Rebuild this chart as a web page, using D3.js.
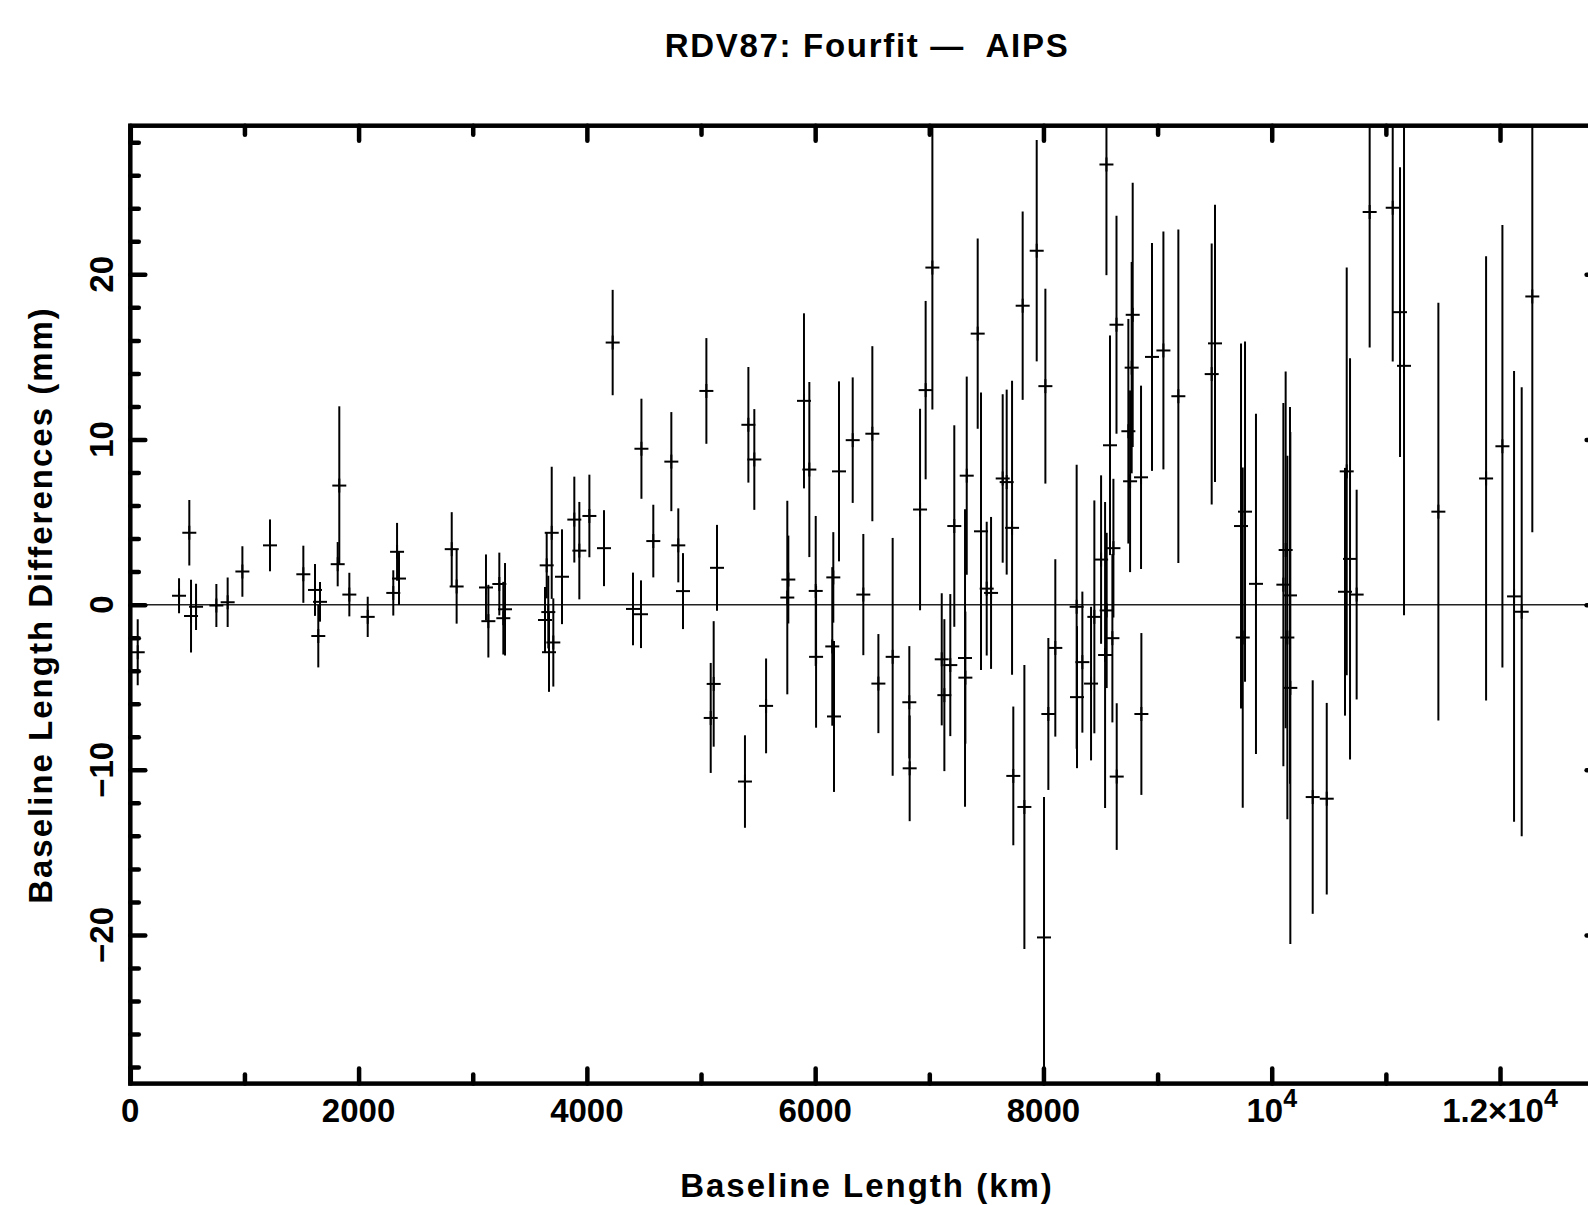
<!DOCTYPE html>
<html>
<head>
<meta charset="utf-8">
<script src="https://cdn.jsdelivr.net/npm/d3@7"></script>
<style>
  body { margin: 0; background: #fff; }
  svg { display: block; }
  text { font-family: 'Liberation Sans', Arial, sans-serif; font-weight: bold; fill: #000; }
</style>
</head>
<body>
<div id="vis"></div>
<script>
/*
 * data: baseline length (km), difference (mm), 1-sigma error (mm)
 */
var baselineKm = [
  65, 427, 517, 532, 576, 754, 853, 982, 1224, 1516,
  1618, 1647, 1662, 1817, 1831, 1919, 2080, 2304, 2337, 2354,
  2816, 2859, 3116, 3137, 3233, 3268, 3283, 3633, 3648, 3662,
  3668, 3692, 3706, 3782, 3890, 3934, 4022, 4150, 4226, 4404,
  4474, 4478, 4582, 4740, 4801, 4842, 5047, 5085, 5111, 5140,
  5385, 5415, 5467, 5570, 5756, 5765, 5902, 5949, 6005, 6008,
  6150, 6159, 6165, 6209, 6329, 6422, 6501, 6554, 6679, 6825,
  6828, 6919, 6968, 7027, 7109, 7132, 7184, 7219, 7313, 7316,
  7328, 7424, 7453, 7503, 7541, 7643, 7678, 7725, 7736, 7818,
  7833, 7941, 8005, 8017, 8043, 8104, 8291, 8294, 8341, 8417,
  8446, 8505, 8540, 8554, 8552, 8583, 8604, 8613, 8642, 8640,
  8744, 8759, 8773, 8782, 8855, 8858, 8951, 9051, 9182, 9474,
  9503, 9731, 9746, 9766, 9862, 10102, 10122, 10137, 10160, 10163,
  10359, 10482, 10642, 10657, 10686, 10744, 10858, 11060, 11124, 11159,
  11460, 11878, 12021, 12123, 12190, 12283
];

var diffMm = [
  -2.88, 0.54, 4.35, -0.69, -0.13, -0.05, 0.15, 2.01, 3.59, 1.84,
  0.89, -1.9, 0.17, 2.45, 7.21, 0.61, -0.74, 0.71, 3.2, 1.58,
  3.36, 1.1, 1.04, -1.0, 1.25, -0.82, -0.28, -0.93, 2.38, -0.45,
  -2.88, 4.35, -2.29, 1.69, 5.15, 3.27, 5.37, 3.42, 15.87, -0.26,
  -0.58, 9.44, 3.85, 8.66, 3.59, 0.82, 12.94, -6.86, -4.8, 2.23,
  -10.71, 10.89, 8.79, -6.13, 0.43, 1.52, 12.34, 8.18, 0.83, -3.16,
  -2.53, 1.65, -6.77, 8.07, 9.96, 0.61, 10.35, -4.78, -3.16, -5.91,
  -9.91, 5.76, 12.99, 20.41, -3.31, -5.48, -3.66, 4.76, -3.23, -4.42,
  7.81, 16.41, 4.44, 0.97, 0.71, 7.64, 7.42, 4.65, -10.37, 18.1,
  -12.25, 21.43, -20.15, 13.23, -6.62, -2.62, -0.13, -5.6, -3.48, -4.78,
  -0.74, 2.73, -3.05, -0.35, 26.65, 9.65, -2.03, 3.42, -10.41, 16.95,
  10.5, 7.47, 14.35, 17.55, 7.71, -6.62, 15.0, 15.39, 12.62, 13.96,
  15.82, 4.76, -1.99, 5.63, 1.26, 1.21, 3.31, -1.99, 0.56, -5.04,
  -11.65, -11.75, 0.78, 8.07, 2.77, 0.61, 23.77, 24.03, 17.71, 14.46,
  5.63, 7.64, 9.59, 0.5, -0.43, 18.66
];

var errMm = [
  2.0, 1.06, 1.98, 2.2, 1.4, 1.3, 1.5, 1.53, 1.57, 1.73,
  1.57, 1.9, 1.2, 1.34, 4.8, 1.32, 1.22, 1.37, 1.75, 1.6,
  2.24, 2.25, 2.0, 2.2, 1.9, 2.2, 2.8, 2.0, 2.0, 2.2,
  2.4, 4.0, 2.67, 2.87, 2.6, 2.95, 2.5, 2.3, 3.19, 2.2,
  2.05, 3.03, 2.2, 3.0, 2.24, 2.3, 3.2, 3.33, 3.8, 2.6,
  2.8, 3.5, 3.05, 2.87, 5.86, 2.66, 5.3, 5.3, 4.54, 4.29,
  4.8, 2.74, 4.57, 5.45, 3.8, 3.67, 5.3, 3.0, 7.2, 3.4,
  3.2, 6.1, 5.4, 8.6, 4.0, 4.6, 4.3, 6.1, 9.0, 4.0,
  6.0, 5.76, 8.4, 4.05, 4.6, 5.1, 5.6, 8.9, 4.2, 5.7,
  8.6, 6.7, 8.5, 5.9, 4.6, 5.37, 8.6, 4.3, 4.27, 4.65,
  7.05, 5.1, 9.27, 4.7, 6.7, 6.65, 5.1, 4.2, 4.44, 6.6,
  6.8, 5.5, 6.4, 8.0, 5.55, 4.9, 6.9, 7.2, 10.1, 7.9,
  8.4, 11.05, 10.3, 10.3, 10.3, 11.0, 10.8, 11.0, 11.4, 15.5,
  7.07, 5.8, 7.5, 12.35, 12.15, 6.35, 8.2, 9.3, 8.77, 15.1,
  12.65, 13.45, 13.4, 13.65, 13.6, 14.27
];

// axis ticks and labels ('^' marks a superscript)
var xMajorTicks = [0, 2000, 4000, 6000, 8000, 10000, 12000];
var xMinorTicks = [1000, 3000, 5000, 7000, 9000, 11000];
var xTickLabels = ['0', '2000', '4000', '6000', '8000', '10^4', '1.2\u00d710^4'];
var yMajorTicks = [-20, -10, 0, 10, 20];
var yMinorTicks = [-28, -26, -24, -22, -18, -16, -14, -12, -8, -6, -4, -2,
  2, 4, 6, 8, 12, 14, 16, 18, 22, 24, 26, 28];
var yTickLabels = ['\u221220', '\u221210', '0', '10', '20'];

var titleText = 'RDV87: Fourfit \u2014  AIPS';
var xTitle = 'Baseline Length (km)';
var yTitle = 'Baseline Length Differences (mm)';

/*
 * layout
 */
var width = 1588;
var height = 1205;
var plotLeft = 130.3;
var plotRight = 1601.6; // right frame sits just past the page edge
var plotTop = 125.7;
var plotBottom = 1083.6;

var x = d3.scaleLinear().domain([0, 12890]).range([plotLeft, plotRight]);
var y = d3.scaleLinear().domain([-29, 29]).range([plotBottom, plotTop]);

var svg = d3.select('#vis')
  .append('svg')
  .attr('width', width)
  .attr('height', height);

svg.append('defs').append('clipPath')
  .attr('id', 'plot-clip')
  .append('rect')
  .attr('x', plotLeft)
  .attr('y', plotTop)
  .attr('width', plotRight - plotLeft)
  .attr('height', plotBottom - plotTop);

/*
 * zero line
 */
svg.append('line')
  .attr('x1', x(0))
  .attr('x2', plotRight)
  .attr('y1', y(0))
  .attr('y2', y(0))
  .attr('stroke', '#222')
  .attr('stroke-width', 1.5);

/*
 * error bars + crosses
 */
var points = baselineKm.map(function (b, i) {
  return { km: b, diff: diffMm[i], err: errMm[i] };
});

var marks = svg.append('g')
  .attr('clip-path', 'url(#plot-clip)')
  .attr('stroke', '#000')
  .attr('stroke-width', 2);

marks.selectAll('.bar')
  .data(points)
  .enter().append('line')
  .attr('class', 'bar')
  .attr('x1', function (d) { return x(d.km); })
  .attr('x2', function (d) { return x(d.km); })
  .attr('y1', function (d) { return y(d.diff + d.err); })
  .attr('y2', function (d) { return y(d.diff - d.err); });

marks.selectAll('.hcross')
  .data(points)
  .enter().append('line')
  .attr('class', 'hcross')
  .attr('x1', function (d) { return x(d.km) - 7; })
  .attr('x2', function (d) { return x(d.km) + 7; })
  .attr('y1', function (d) { return y(d.diff); })
  .attr('y2', function (d) { return y(d.diff); });

marks.selectAll('.vcross')
  .data(points)
  .enter().append('line')
  .attr('class', 'vcross')
  .attr('x1', function (d) { return x(d.km); })
  .attr('x2', function (d) { return x(d.km); })
  .attr('y1', function (d) { return y(d.diff) - 7; })
  .attr('y2', function (d) { return y(d.diff) + 7; });

/*
 * inward ticks on all four sides, drawn with d3 axes
 */
function tickAxis(axisFn, scale, values, size, transform) {
  var g = svg.append('g')
    .attr('transform', transform)
    .call(axisFn(scale).tickValues(values).tickSizeInner(-size)
      .tickSizeOuter(0).tickFormat(''));
  g.select('.domain').remove();
  g.selectAll('.tick line')
    .attr('stroke', '#000')
    .attr('stroke-width', 4.5)
    .attr('stroke-linecap', 'round');
  g.selectAll('.tick text').remove();
}

tickAxis(d3.axisBottom, x, xMajorTicks, 15, 'translate(0,' + plotBottom + ')');
tickAxis(d3.axisBottom, x, xMinorTicks, 9, 'translate(0,' + plotBottom + ')');
tickAxis(d3.axisTop, x, xMajorTicks, 15, 'translate(0,' + plotTop + ')');
tickAxis(d3.axisTop, x, xMinorTicks, 9, 'translate(0,' + plotTop + ')');
tickAxis(d3.axisLeft, y, yMajorTicks, 15, 'translate(' + plotLeft + ',0)');
tickAxis(d3.axisLeft, y, yMinorTicks, 8.5, 'translate(' + plotLeft + ',0)');
tickAxis(d3.axisRight, y, yMajorTicks, 15, 'translate(' + plotRight + ',0)');
tickAxis(d3.axisRight, y, yMinorTicks, 8.5, 'translate(' + plotRight + ',0)');

// frame
svg.append('rect')
  .attr('x', plotLeft)
  .attr('y', plotTop)
  .attr('width', plotRight - plotLeft)
  .attr('height', plotBottom - plotTop)
  .attr('fill', 'none')
  .attr('stroke', '#000')
  .attr('stroke-width', 4.5);

/*
 * tick labels
 */
xMajorTicks.forEach(function (v, i) {
  var parts = xTickLabels[i].split('^');
  var t = svg.append('text')
    .attr('x', x(v))
    .attr('y', 1122)
    .attr('text-anchor', 'middle')
    .style('font-size', '33px');
  t.append('tspan').text(parts[0]);
  if (parts.length > 1) {
    t.append('tspan')
      .attr('dy', -15)
      .style('font-size', '25px')
      .text(parts[1]);
  }
});

yMajorTicks.forEach(function (v, i) {
  svg.append('text')
    .attr('transform', 'translate(113,' + y(v) + ') rotate(-90)')
    .attr('text-anchor', 'middle')
    .style('font-size', '33px')
    .text(yTickLabels[i]);
});

/*
 * titles
 */
svg.append('text')
  .attr('x', 867)
  .attr('y', 57)
  .attr('text-anchor', 'middle')
  .style('font-size', '33px')
  .style('letter-spacing', '1.7px')
  .style('white-space', 'pre')
  .text(titleText);

svg.append('text')
  .attr('x', 867)
  .attr('y', 1197)
  .attr('text-anchor', 'middle')
  .style('font-size', '33px')
  .style('letter-spacing', '2px')
  .text(xTitle);

svg.append('text')
  .attr('transform', 'translate(51.5,605) rotate(-90)')
  .attr('text-anchor', 'middle')
  .style('font-size', '33px')
  .style('letter-spacing', '2px')
  .text(yTitle);
</script>
</body>
</html>
